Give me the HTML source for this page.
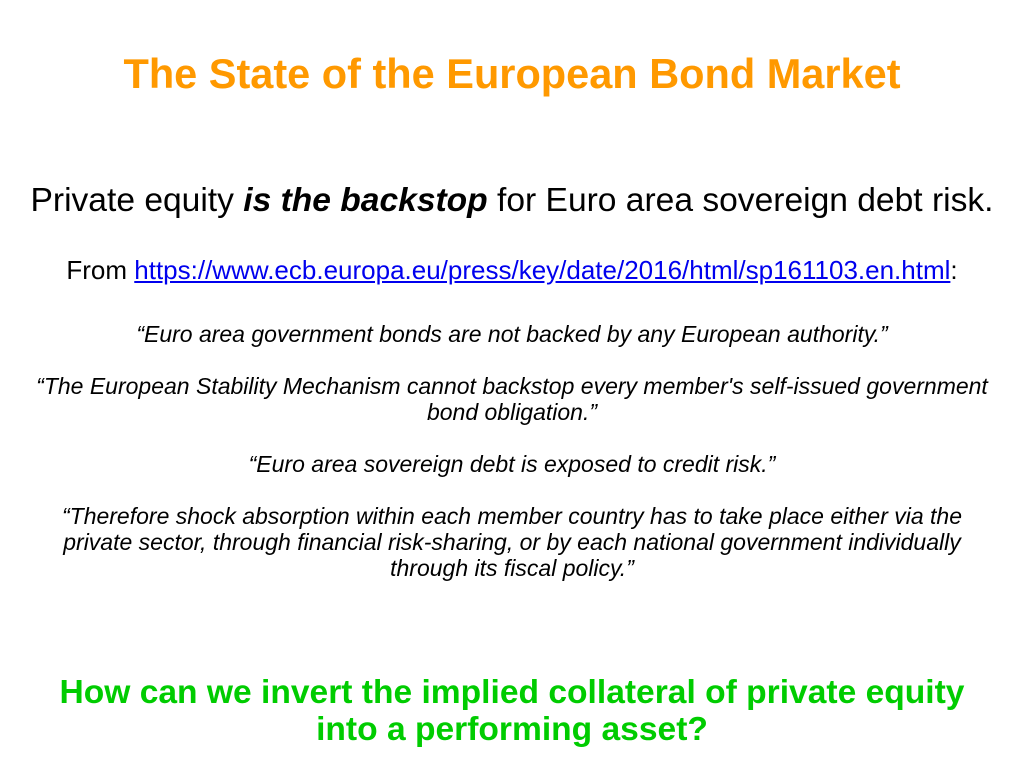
<!DOCTYPE html>
<html><head><meta charset="utf-8"><style>
body{margin:0;width:1024px;height:768px;background:#fff;font-family:"Liberation Sans",sans-serif;position:relative;overflow:hidden}
.c{position:absolute;left:0;width:1024px;text-align:center;white-space:nowrap}
.q{font-style:italic;font-size:23px;line-height:26px;color:#000}
</style></head><body>
<div class="c" style="top:50px;font-size:41.5px;font-weight:bold;color:#ff9900">The State of the European Bond Market</div>
<div class="c" style="top:182px;font-size:33.6px">Private equity <b><i>is the backstop</i></b> for Euro area sovereign debt risk.</div>
<div class="c" style="top:255px;font-size:26px">From <a style="color:#0000ee;text-decoration:underline">https://www.ecb.europa.eu/press/key/date/2016/html/sp161103.en.html</a>:</div>
<div class="c q" style="top:321px">“Euro area government bonds are not backed by any European authority.”</div>
<div class="c q" style="top:373px">“The European Stability Mechanism cannot backstop every member's self-issued government<br>bond obligation.”</div>
<div class="c q" style="top:451px">“Euro area sovereign debt is exposed to credit risk.”</div>
<div class="c q" style="top:503px">“Therefore shock absorption within each member country has to take place either via the<br>private sector, through financial risk-sharing, or by each national government individually<br>through its fiscal policy.”</div>
<div class="c" style="top:674px;font-size:33.6px;line-height:37px;font-weight:bold;color:#00cc00">How can we invert the implied collateral of private equity<br>into a performing asset?</div>
</body></html>
